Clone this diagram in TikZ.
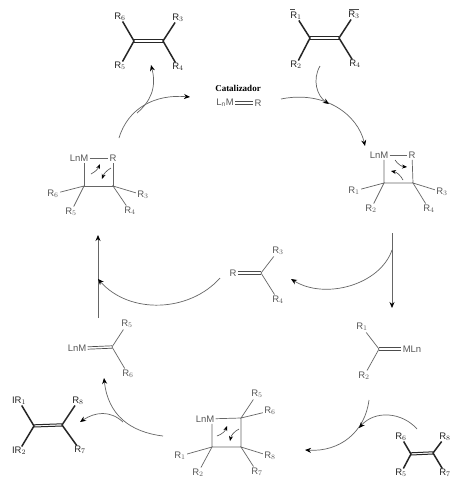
\documentclass[tikz,border=0pt]{standalone}
\usepackage{fontspec}
\setmainfont{Liberation Sans}
\newfontfamily\catfont{Liberation Serif}
\usetikzlibrary{arrows.meta}
\tikzset{
  x=1pt,y=-1pt,
  lab/.style={inner sep=0pt,outer sep=1.5pt,text=black!65,font=\fontsize{9.5}{10}\selectfont},
  dark/.style={inner sep=0pt,outer sep=0.5pt,text=black!85,font=\fontsize{9.5}{10}\selectfont},
  thin line/.style={draw=black!60,line width=.7pt},
  thick line/.style={draw=black!85,line width=1.5pt},
  dbl/.style={draw=black!70,line width=.7pt},
  curve/.style={draw=black!60,line width=.7pt,-{Stealth[length=6pt,width=5pt,black]}},
  mini/.style={draw=black!70,line width=.6pt,-{Stealth[length=5pt,width=4pt,black]}}
}
\begin{document}
\begin{tikzpicture}
\useasboundingbox (0,0) rectangle (454,480);
\fill[white] (0,0) rectangle (454,480);
% --- top-left alkene
\coordinate (a1) at (134,41); \coordinate (a2) at (163,41);
\node[dark] (a6) at (120,17) {R$_6$}; \node[dark] (a3) at (178,18) {R$_3$};
\node[dark] (a5) at (120,66) {R$_5$}; \node[dark] (a4) at (178,67) {R$_4$};
\draw[thick line] (a6) -- (a1) -- (a5); \draw[thick line] (a3) -- (a2) -- (a4);
\draw[thick line,line width=1pt] ([yshift=-1pt]a1) -- ([yshift=-1pt]a2);
\draw[thick line,line width=1pt] ([yshift=1.2pt]a1) -- ([yshift=1.2pt]a2);
% --- top-right alkene
\coordinate (b1) at (310,38); \coordinate (b2) at (339,38);
\node[dark] (b1l) at (296,16) {R$_1$}; \node[dark] (b3l) at (354,15) {R$_3$};
\node[dark] (b2l) at (296,65) {R$_2$}; \node[dark] (b4l) at (355,64) {R$_4$};
\draw[thick line] (b1l) -- (b1) -- (b2l); \draw[thick line] (b3l) -- (b2) -- (b4l);
\draw[thick line,line width=1pt] ([yshift=-1pt]b1) -- ([yshift=-1pt]b2);
\draw[thick line,line width=1pt] ([yshift=1.2pt]b1) -- ([yshift=1.2pt]b2);
\coordinate (b1t) at (290,9); \coordinate (b1u) at (295,9);
\coordinate (b3t) at (349,9); \coordinate (b3u) at (359,9);
\draw[black!70,line width=.6pt] (b1t) -- (b1u);
\draw[black!70,line width=.6pt] (b3t) -- (b3u);
% --- catalyst
\node[inner sep=0pt,font=\catfont\bfseries\fontsize{9}{10}\selectfont] (cat) at (238,88) {Catalizador};
\node[lab] (lnm) at (225,103) {L$_{\rm n}$M};
\node[lab] (catr) at (258,103) {R};
\draw[dbl] ([yshift=-1.2pt]lnm.east) -- ([yshift=-1.2pt]catr.west);
\draw[dbl] ([yshift=1.2pt]lnm.east) -- ([yshift=1.2pt]catr.west);
% --- left ring
\node[lab] (lm) at (79,158) {LnM}; \node[lab] (lr) at (113,158) {R};
\coordinate (lc1) at (84,186); \coordinate (lc2) at (113,186);
\node[lab] (l6) at (53,194) {R$_6$}; \node[lab] (l3) at (143,195) {R$_3$};
\node[lab] (l5) at (71,212) {R$_5$}; \node[lab] (l4) at (130,211) {R$_4$};
\draw[thin line] (lm) -- (lr);
\draw[thin line] (lm.south -| lc1) -- (lc1) -- (lc2) -- (lr);
\draw[thin line] (l6) -- (lc1) -- (l5); \draw[thin line] (l3) -- (lc2) -- (l4);
\draw[mini] (91,174) to[bend right=20] (100,164);
\draw[mini] (111,168) to[bend right=20] (102,179);
% --- right ring
\node[lab] (rm) at (379,155) {LnM}; \node[lab] (rr) at (412,155) {R};
\coordinate (rc1) at (384,183); \coordinate (rc2) at (413,183);
\node[lab] (r1) at (354,191) {R$_1$}; \node[lab] (r3) at (442,192) {R$_3$};
\node[lab] (r2) at (371,209) {R$_2$}; \node[lab] (r4) at (429,209) {R$_4$};
\draw[thin line] (rm) -- (rr);
\draw[thin line] (rm.south -| rc1) -- (rc1) -- (rc2) -- (rr);
\draw[thin line] (r1) -- (rc1) -- (r2); \draw[thin line] (r3) -- (rc2) -- (r4);
\draw[mini] (395,160) to[bend right=25] (407,167);
\draw[mini] (403,180) to[bend right=25] (391,171);
% --- R=C
\node[lab] (mr) at (233,273) {R}; \coordinate (mc) at (261,273);
\node[lab] (m3) at (278,251) {R$_3$}; \node[lab] (m4) at (278,300) {R$_4$};
\draw[dbl] ([yshift=-1.2pt]mr.east) -- ([yshift=-1.2pt]mc);
\draw[dbl] ([yshift=1.2pt]mr.east) -- ([yshift=1.2pt]mc);
\draw[thin line] (m3) -- (mc) -- (m4);
% --- C=MLn
\coordinate (nc) at (379,349); \node[lab] (nm) at (412,349) {MLn};
\node[lab] (n1) at (362,327) {R$_1$}; \node[lab] (n2) at (364,376) {R$_2$};
\draw[dbl] ([yshift=-1.2pt]nc) -- ([yshift=-1.2pt]nm.west);
\draw[dbl] ([yshift=1.2pt]nc) -- ([yshift=1.2pt]nm.west);
\draw[thin line] (n1) -- (nc) -- (n2);
% --- LnM=C
\node[lab] (pm) at (77,348) {LnM}; \coordinate (pc) at (112,347);
\node[lab] (p5) at (127,324) {R$_5$}; \node[lab] (p6) at (128,374) {R$_6$};
\draw[dbl] ([yshift=-1.2pt]pm.east) -- ([yshift=-1.2pt]pc);
\draw[dbl] ([yshift=1.2pt]pm.east) -- ([yshift=1.2pt]pc);
\draw[thin line] (p5) -- (pc) -- (p6);
% --- bottom ring
\node[lab] (bm) at (205,419) {LnM};
\coordinate (bc1) at (212,447); \coordinate (bc2) at (241,447); \coordinate (bc3) at (241,418);
\node[lab] (q1) at (180,456) {R$_1$}; \node[lab] (q2) at (198,473) {R$_2$};
\node[lab] (q5) at (257,394) {R$_5$}; \node[lab] (q6) at (270,411) {R$_6$};
\node[lab] (q8) at (270,456) {R$_8$}; \node[lab] (q7) at (257,472) {R$_7$};
\draw[thin line] (bm) -- (bc3) -- (bc2) -- (bc1) -- (bm.south -| bc1);
\draw[thin line] (q1) -- (bc1) -- (q2);
\draw[thin line] (q5) -- (bc3) -- (q6);
\draw[thin line] (q8) -- (bc2) -- (q7);
\draw[mini] (217,436) to[bend right=25] (227,426);
\draw[mini] (239,429) to[bend right=25] (230,441);
% --- bottom-left alkene
\coordinate (c1) at (34,426); \coordinate (c2) at (62,425);
\node[dark] (c1l) at (19,401) {IR$_1$}; \node[dark] (c8) at (78,401) {R$_8$};
\node[dark] (c2l) at (19,451) {IR$_2$}; \node[dark] (c7) at (80,450) {R$_7$};
\draw[thick line] (c1l) -- (c1) -- (c2l); \draw[thick line] (c8) -- (c2) -- (c7);
\draw[thick line,line width=1pt] ([yshift=-1pt]c1) -- ([yshift=-1pt]c2);
\draw[thick line,line width=1pt] ([yshift=1.2pt]c1) -- ([yshift=1.2pt]c2);
% --- bottom-right alkene
\coordinate (d1) at (411,454); \coordinate (d2) at (433,453);
\node[dark] (d6) at (401,437) {R$_6$}; \node[dark] (d8) at (445,437) {R$_8$};
\node[dark] (d5) at (401,473) {R$_5$}; \node[dark] (d7) at (445,473) {R$_7$};
\draw[thick line] (d6) -- (d1) -- (d5); \draw[thick line] (d8) -- (d2) -- (d7);
\draw[thick line,line width=1pt] ([yshift=-1pt]d1) -- ([yshift=-1pt]d2);
\draw[thick line,line width=1pt] ([yshift=1.2pt]d1) -- ([yshift=1.2pt]d2);
% --- cycle arrows
\coordinate (k1) at (119,138); \coordinate (k2) at (190,97);
\draw[curve] (k1) .. controls (128,108) and (155,94) .. (k2);
\coordinate (k3) at (137,113); \coordinate (k4) at (151,65);
\draw[curve] (k3) .. controls (150,102) and (157,88) .. (k4);
\coordinate (k5) at (281,99); \coordinate (k6) at (365,146);
\draw[curve] (k5) .. controls (325,90) and (358,115) .. (k6);
\coordinate (k7) at (320,66); \coordinate (k8) at (329,104);
\draw[curve] (k7) .. controls (312,80) and (317,96) .. (k8);
\coordinate (k9) at (392,233); \coordinate (k10) at (392,308);
\draw[curve] (k9) -- (k10);
\coordinate (k11) at (392,250); \coordinate (k12) at (291,279);
\draw[curve] (k11) .. controls (380,285) and (325,300) .. (k12);
\coordinate (k13) at (369,400); \coordinate (k14) at (305,450);
\draw[curve] (k13) .. controls (365,432) and (340,452) .. (k14);
\coordinate (k15) at (417,429); \coordinate (k16) at (359,428);
\draw[curve] (k15) .. controls (402,412) and (375,410) .. (k16);
\coordinate (k17) at (163,436); \coordinate (k18) at (104,378);
\draw[curve] (k17) .. controls (130,432) and (108,415) .. (k18);
\coordinate (k19) at (123,422); \coordinate (k20) at (80,422);
\draw[curve] (k19) .. controls (110,410) and (95,412) .. (k20);
\coordinate (k21) at (98,318); \coordinate (k22) at (98,235);
\draw[curve] (k21) -- (k22);
\coordinate (k23) at (220,278); \coordinate (k24) at (98,279);
\draw[curve] (k23) .. controls (190,312) and (130,315) .. (k24);
\end{tikzpicture}
\end{document}
